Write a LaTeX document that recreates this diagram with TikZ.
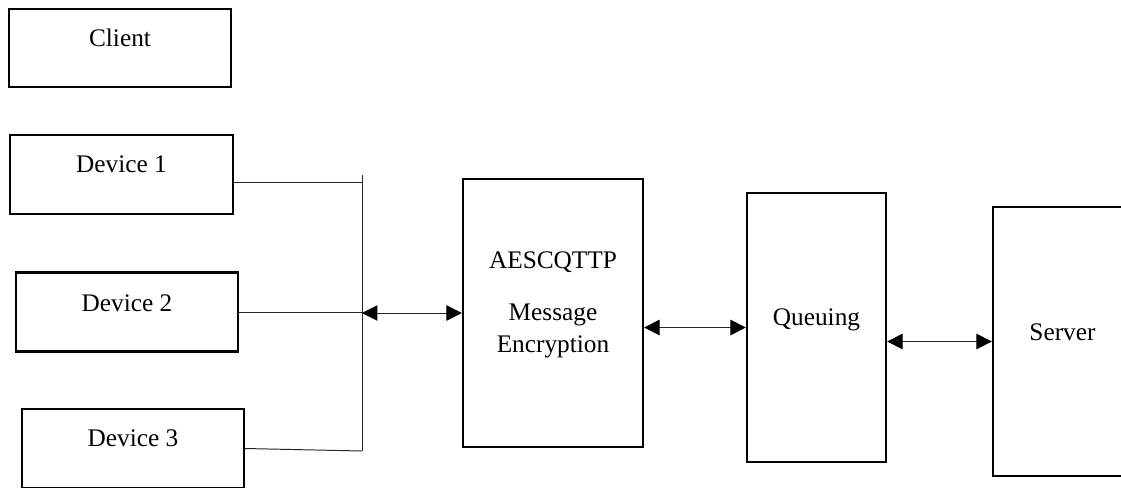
\documentclass[tikz,border=0pt]{standalone}
\usepackage{fontspec}
\setmainfont{Liberation Serif}
\usetikzlibrary{arrows.meta}

\tikzset{
    box/.style={draw, line width=1.6pt, inner sep=0pt},
    wire/.style={draw=black!85, line width=0.7pt},
    link/.style={wire, {Triangle[length=11pt,width=11pt,color=black]}-{Triangle[length=11pt,width=11pt,color=black]}},
    lbl/.style={anchor=base, inner sep=0pt}
}

\begin{document}
\begin{tikzpicture}[font=\fontsize{18}{22.5}\selectfont]
    \useasboundingbox (0,0) rectangle (28.025,-12.175);
    \clip (0,0) rectangle (28.025,-12.175);

    % Client and devices
    \node[box, minimum width=5.55cm, minimum height=1.95cm] (client) at (3.0,-1.2) {};
    \node[lbl] (client-txt) at ([yshift=-0.975cm]client.north) {Client};

    \node[box, minimum width=5.575cm, minimum height=1.975cm] (dev1) at (3.0375,-4.3625) {};
    \node[lbl] (dev1-txt) at ([yshift=-0.975cm]dev1.north) {Device 1};

    \node[box, minimum width=5.55cm, minimum height=1.975cm] (dev2) at (3.175,-7.8) {};
    \node[lbl] (dev2-txt) at ([yshift=-1.0cm]dev2.north) {Device 2};

    \node[box, minimum width=5.55cm, minimum height=1.975cm] (dev3) at (3.325,-11.2125) {};
    \node[lbl] (dev3-txt) at ([yshift=-0.975cm]dev3.north) {Device 3};

    % Bus
    \coordinate (bustop) at (9.05,-4.375);
    \coordinate (busbot) at (9.05,-11.275);
    \path[wire] (bustop) -- (busbot);
    \path[wire] ([yshift=-0.19cm]dev1.east) -- ([yshift=-0.19cm]dev1.east -| bustop);
    \path[wire] (dev2.east) -- (dev2.east -| bustop);
    \path[wire] (dev3.east) -- (busbot);

    % Encryption
    \node[box, minimum width=4.5cm, minimum height=6.7cm] (aes) at (13.825,-7.825) {};
    \node[lbl] (aes-txt) at ([yshift=-2.275cm]aes.north) {AESCQTTP};
    \node[lbl] (aes-msg) at ([yshift=-3.575cm]aes.north) {Message};
    \node[lbl] (aes-enc) at ([yshift=-4.375cm]aes.north) {Encryption};

    % Queuing
    \node[box, minimum width=3.475cm, minimum height=6.725cm] (queue) at (20.4125,-8.1875) {};
    \node[lbl] (queue-txt) at ([yshift=-3.35cm]queue.north) {Queuing};

    % Server
    \node[box, minimum width=3.475cm, minimum height=6.725cm] (server) at (26.5625,-8.5375) {};
    \node[lbl] (server-txt) at ([yshift=-3.375cm]server.north) {Server};

    % Links
    \path[link] (aes.west -| bustop) -- (aes.west);
    \path[link] (queue.west -| aes.east) -- (queue.west);
    \path[link] (server.west -| queue.east) -- (server.west);
\end{tikzpicture}
\end{document}
